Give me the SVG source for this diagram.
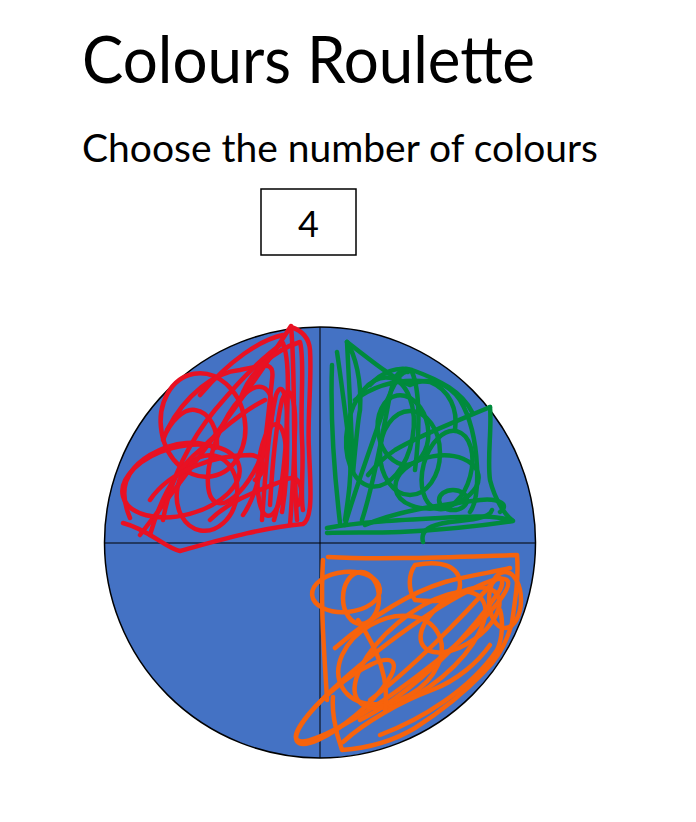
<svg xmlns="http://www.w3.org/2000/svg" width="696" height="822" viewBox="0 0 696 822">
<style>
.t{font-family:"Lato","Open Sans","Liberation Sans",sans-serif;fill:#000}
.r,.g,.o{fill:none;stroke-width:4.5;stroke-linecap:round;stroke-linejoin:round}
.r{stroke:#E81123}.g{stroke:#008A3C}.o{stroke:#F7630C}
</style>
<rect width="696" height="822" fill="#fff"/>
<g id="title"><text class="t" x="82" y="83" font-size="66" textLength="453" lengthAdjust="spacingAndGlyphs">Colours Roulette</text></g>
<g id="subtitle"><text class="t" x="82" y="162" font-size="38" textLength="516" lengthAdjust="spacingAndGlyphs">Choose the number of colours</text></g>
<g id="count-box"><rect x="261" y="189" width="95" height="66" fill="#fff" stroke="#000" stroke-width="1.5"/><text class="t" x="308.5" y="237" font-size="36" text-anchor="middle">4</text></g>
<g id="wheel">
<circle cx="320" cy="542.5" r="215.5" fill="#4472C4" stroke="#000" stroke-width="1.5"/>
<line x1="320" y1="327" x2="320" y2="758" stroke="#000" stroke-width="1"/>
<line x1="105" y1="543" x2="535" y2="543" stroke="#000" stroke-width="1"/>
</g>
<g id="red-scribble" class="r">
<path d="M140,535 C190,470 250,390 291,326 C296,380 292,450 297,520"/>
<path d="M123,523 C150,530 165,548 180,551 C220,540 260,528 303,524 C314,518 310,480 309,450 C307,420 312,380 310,350 C309,336 300,330 291,327"/>
<ellipse cx="203" cy="425" rx="42" ry="52" transform="rotate(-10 203 425)"/>
<ellipse cx="181" cy="481" rx="60" ry="34" transform="rotate(-15 181 481)"/>
<ellipse cx="207" cy="493" rx="30" ry="38" transform="rotate(10 207 493)"/>
<ellipse cx="240" cy="445" rx="24" ry="62" transform="rotate(22 240 445)"/>
<ellipse cx="272" cy="470" rx="14" ry="46" transform="rotate(5 272 470)"/>
<path d="M167,430 C185,395 215,372 240,370 C265,365 275,360 272,380 C268,420 265,450 260,472 C256,490 250,505 243,515"/>
<path d="M163,520 C170,480 190,440 215,410 C240,380 265,355 283,343 C290,360 288,400 286,440 C284,470 280,500 274,520"/>
<path d="M262,520 C265,480 268,430 276,395 C282,380 287,395 287,420 C288,460 285,495 282,512"/>
<path d="M270,505 C272,470 275,430 282,400 C290,380 296,400 295,430 C294,470 292,500 290,525"/>
<path d="M130,518 C118,490 125,470 150,455 C175,440 200,440 215,448"/>
<path d="M163,440 C170,420 185,408 195,410 C210,412 218,430 217,447"/>
<path d="M150,535 C160,500 175,470 200,450 C230,420 255,405 265,400"/>
<path d="M200,395 C230,360 260,340 283,335"/>
<path d="M240,400 C250,370 275,350 300,342 C305,360 300,400 302,440 C304,470 300,495 303,510"/>
<path d="M210,520 C230,500 260,490 285,480 C300,472 305,490 298,505"/>
<path d="M150,500 C170,470 215,455 250,455 C265,456 268,470 255,480"/>
</g>
<g id="green-scribble" class="g">
<path d="M332,365 C330,420 335,480 340,523"/>
<path d="M347,342 C350,400 352,440 353,473 C356,440 358,420 360,410 C362,380 355,355 347,342"/>
<path d="M347,342 C370,360 395,380 410,385 C430,375 450,385 460,400 C472,420 476,445 477,467 C478,490 475,505 470,512"/>
<path d="M490,407 C460,420 420,435 395,450 C380,460 372,470 368,475"/>
<path d="M490,407 C492,430 487,457 490,480 C495,500 505,515 512,520"/>
<path d="M327,528 C360,522 400,520 440,518 C470,516 495,515 513,521 C480,526 440,530 400,532 C370,533 345,532 327,533"/>
<ellipse cx="410" cy="453" rx="30" ry="42"/>
<ellipse cx="403" cy="430" rx="25" ry="35" transform="rotate(-10 403 430)"/>
<ellipse cx="453" cy="500" rx="14" ry="10"/>
<ellipse cx="437" cy="482" rx="42" ry="26" transform="rotate(-10 437 482)"/>
<ellipse cx="380" cy="432" rx="33" ry="55" transform="rotate(10 380 432)"/>
<ellipse cx="447" cy="470" rx="24" ry="40" transform="rotate(15 447 470)"/>
<path d="M423,542 C420,530 430,525 450,522 C470,520 490,518 492,510"/>
<path d="M362,520 C375,480 385,420 390,395 C395,370 405,365 412,372 C420,390 420,430 415,470"/>
<path d="M345,525 C355,490 370,450 380,420 C390,390 400,370 408,372"/>
<path d="M355,400 C375,385 400,378 430,382 C450,390 458,410 455,430"/>
<path d="M337,352 C342,385 346,420 350,450 C352,475 348,500 345,520"/>
<path d="M370,385 C382,372 397,366 412,370 C440,380 462,392 472,412"/>
<path d="M365,525 C400,510 440,505 480,500 C500,498 510,505 500,512"/>
</g>
<g id="orange-scribble" class="o">
<path d="M328,557 C380,560 450,557 517,555 C519,580 515,600 512,623 C506,645 496,660 484,672 C465,692 440,712 415,728 C395,740 370,748 342,750 C334,728 332,708 333,697"/>
<ellipse cx="346" cy="592" rx="34" ry="20" transform="rotate(-5 346 592)"/>
<ellipse cx="361" cy="598" rx="18" ry="26"/>
<path d="M415,565 C440,560 460,565 460,585 C460,600 440,603 415,600 C408,590 408,575 415,565"/>
<path d="M323,560 C320,610 325,660 327,700"/>
<ellipse cx="402" cy="660" rx="132" ry="22" transform="rotate(-37 402 660)"/>
<ellipse cx="420" cy="650" rx="80" ry="35" transform="rotate(-40 420 650)"/>
<ellipse cx="390" cy="660" rx="55" ry="40" transform="rotate(-30 390 660)"/>
<ellipse cx="505" cy="600" rx="16" ry="28"/>
<ellipse cx="345" cy="702" rx="62" ry="17" transform="rotate(-40 345 702)"/>
<ellipse cx="460" cy="620" rx="45" ry="24" transform="rotate(-35 460 620)"/>
<path d="M360,720 C400,700 460,650 500,590 C505,580 500,575 495,580 C460,620 410,670 370,700"/>
<path d="M380,735 C420,720 470,690 497,650 C503,638 503,620 500,610"/>
<path d="M343,742 C365,722 400,702 432,690 C458,680 478,662 490,645"/>
<path d="M358,620 C378,650 390,680 385,712"/>
<path d="M335,648 C362,625 402,595 445,582 C470,575 495,572 510,568"/>
</g>
</svg>
